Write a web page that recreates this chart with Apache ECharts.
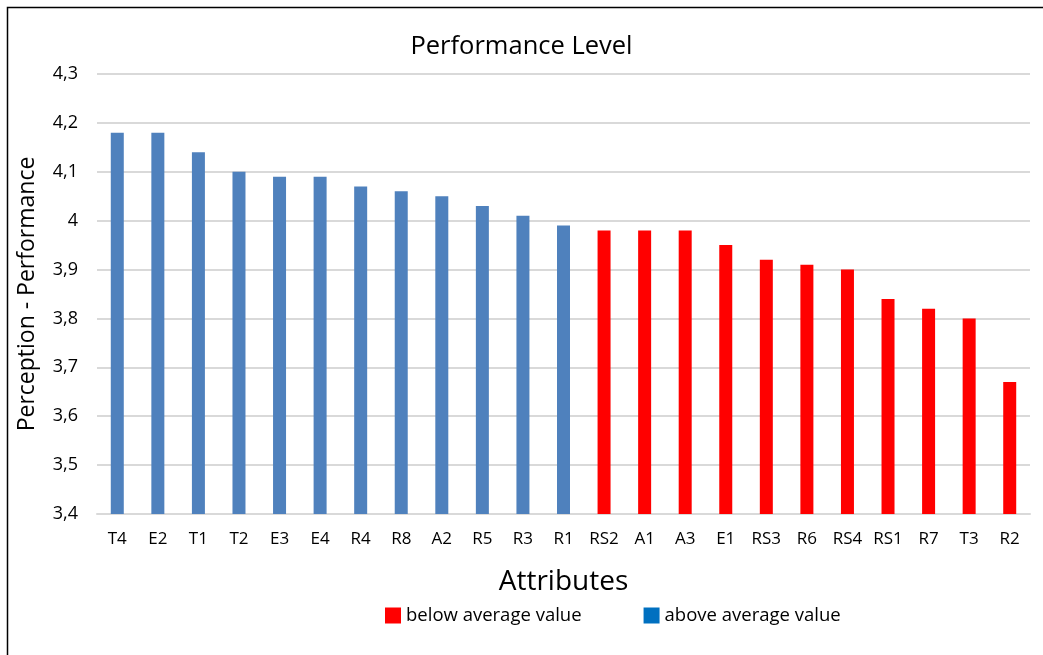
<!DOCTYPE html>
<html>
<head>
<meta charset="utf-8">
<script src="https://cdn.jsdelivr.net/npm/echarts@6/dist/echarts.min.js"></script>
<style>
  html, body { margin: 0; padding: 0; background: #fff; }
  #chart { width: 1043px; height: 655px; }
</style>
</head>
<body>
<div id="chart"></div>
<script>
// Attributes ranked by perceived performance
const categories = ['T4', 'E2', 'T1', 'T2', 'E3', 'E4', 'R4', 'R8', 'A2', 'R5', 'R3', 'R1',
                    'RS2', 'A1', 'A3', 'E1', 'RS3', 'R6', 'RS4', 'RS1', 'R7', 'T3', 'R2'];
const aboveAverage = [4.18, 4.18, 4.14, 4.10, 4.09, 4.09, 4.07, 4.06, 4.05, 4.03, 4.01, 3.99,
                      null, null, null, null, null, null, null, null, null, null, null];
const belowAverage = [null, null, null, null, null, null, null, null, null, null, null, null,
                      3.98, 3.98, 3.98, 3.95, 3.92, 3.91, 3.90, 3.84, 3.82, 3.80, 3.67];
const yMin = 3.4, yMax = 4.3, yStep = 0.1;

const FONT = '"Open Sans", Lato, sans-serif';

const chart = echarts.init(document.getElementById('chart'), null, { renderer: 'canvas' });
chart.setOption({
  animation: false,
  backgroundColor: '#ffffff',
  title: {
    text: 'Performance Level',
    left: 'center',
    top: 29,
    textStyle: { fontFamily: FONT, fontSize: 25.5, fontWeight: 'normal', color: '#000' }
  },
  legend: {
    bottom: 25,
    left: 380,
    itemWidth: 16,
    itemHeight: 16,
    itemGap: 62,
    icon: 'rect',
    textStyle: { fontFamily: FONT, fontSize: 18.5, color: '#000' },
    data: [
      { name: 'below average value', itemStyle: { color: '#ff0000' } },
      { name: 'above average value', itemStyle: { color: '#0070c0' } }
    ]
  },
  grid: { left: 97, right: 13, top: 74, bottom: 141 },
  xAxis: {
    type: 'category',
    data: categories,
    name: 'Attributes',
    nameLocation: 'middle',
    nameGap: 54,
    nameTextStyle: { fontFamily: FONT, fontSize: 28, color: '#000' },
    axisLine: { show: true, lineStyle: { color: '#d9d9d9', width: 2 } },
    axisTick: { show: false },
    axisLabel: { fontFamily: FONT, fontSize: 17, color: '#000', margin: 17, interval: 0 }
  },
  yAxis: {
    type: 'value',
    min: yMin,
    max: yMax,
    interval: yStep,
    name: 'Perception - Performance',
    nameLocation: 'middle',
    nameGap: 58,
    nameRotate: 90,
    nameTextStyle: { fontFamily: FONT, fontSize: 23, color: '#000' },
    axisLine: { show: false },
    axisTick: { show: false },
    splitLine: { lineStyle: { color: '#d9d9d9', width: 2 } },
    axisLabel: {
      fontFamily: FONT, fontSize: 18, color: '#000', margin: 19,
      formatter: v => {
        const s = (Math.round(v * 10) / 10).toFixed(1);
        return (s.endsWith('.0') ? s.slice(0, -2) : s).replace('.', ',');
      }
    }
  },
  series: [
    {
      name: 'below average value',
      type: 'bar',
      data: belowAverage,
      barWidth: 13,
      barGap: '-100%',
      itemStyle: { color: '#ff0000' }
    },
    {
      name: 'above average value',
      type: 'bar',
      data: aboveAverage,
      barWidth: 13,
      barGap: '-100%',
      itemStyle: { color: '#4f81bd' }
    }
  ],
  graphic: [
    {
      type: 'rect',
      shape: { x: 7.5, y: 7.5, width: 1100, height: 700 },
      style: { fill: 'none', stroke: '#000', lineWidth: 1.5 },
      silent: true
    }
  ]
});
</script>
</body>
</html>
